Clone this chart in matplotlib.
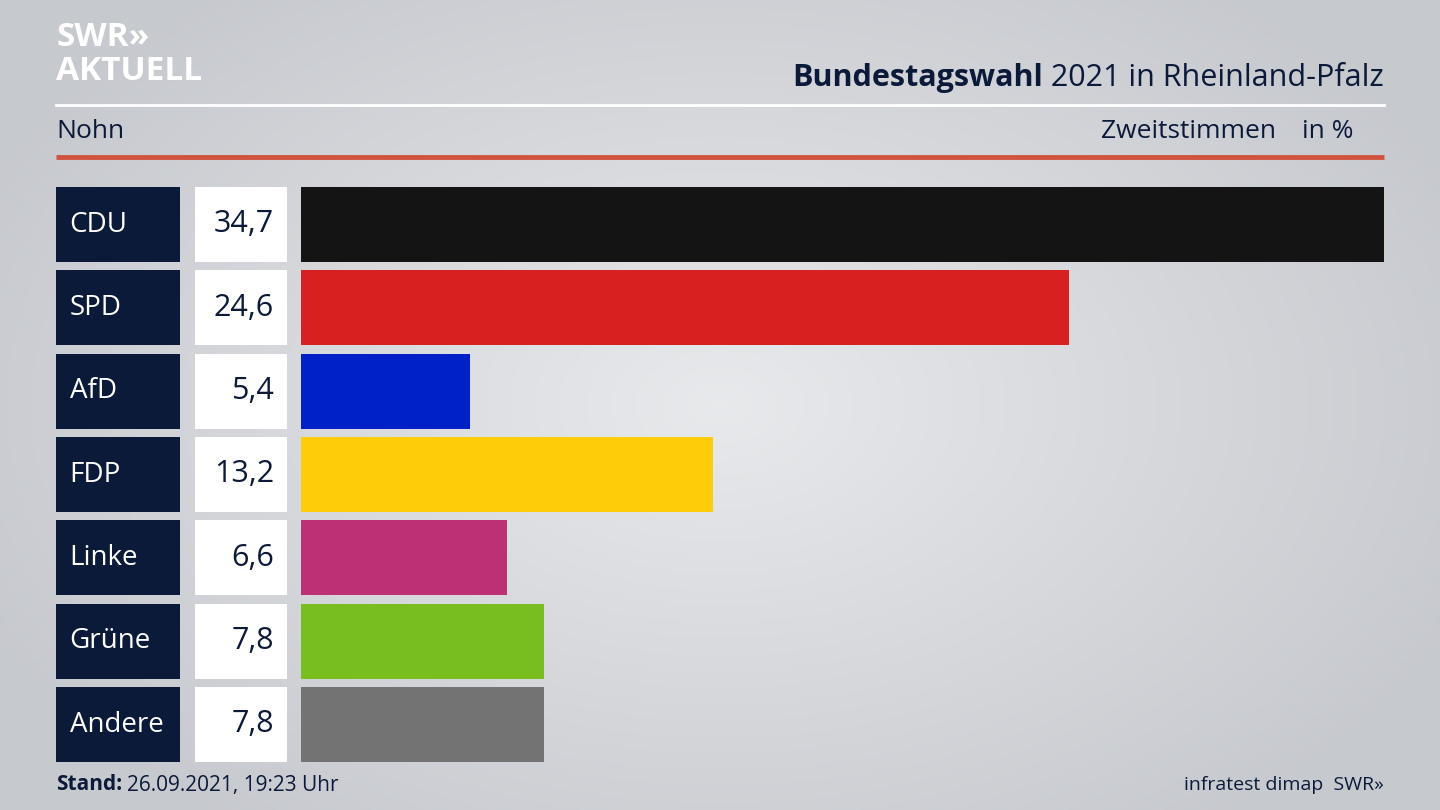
import numpy as np
import matplotlib
matplotlib.use("Agg")
import matplotlib.pyplot as plt

parties = ["CDU", "SPD", "AfD", "FDP", "Linke", "Grüne", "Andere"]
values = [34.7, 24.6, 5.4, 13.2, 6.6, 7.8, 7.8]
value_labels = ["34,7", "24,6", "5,4", "13,2", "6,6", "7,8", "7,8"]
colors = ["#141414", "#d82020", "#0020c8", "#ffcc0a", "#be3075", "#78be1e", "#737373"]

W, H = 1440, 810
FONT = "Open Sans"
NAVY = "#0c1a3a"
fig = plt.figure(figsize=(14.4, 8.1), dpi=100)

bg = fig.add_axes([0, 0, 1, 1])
xx = np.linspace(-1, 1, 400)
yy = np.linspace(-1, 1, 225)
X, Y = np.meshgrid(xx, yy)
r = np.sqrt(X**2 * 0.8 + Y**2 * 0.6)
c0 = np.array([0.91, 0.915, 0.925]); c1 = np.array([0.78, 0.79, 0.81])
t = np.clip(r, 0, 1)[..., None]
bg.imshow(c0 * (1 - t) + c1 * t, extent=[0, W, H, 0], aspect="auto")
bg.set_xlim(0, W); bg.set_ylim(H, 0); bg.axis("off")

def ax_px(x0, x1, y0=187, y1=762):
    return fig.add_axes([x0 / W, 1 - y1 / H, (x1 - x0) / W, (y1 - y0) / H])

ylim = (len(parties) - 0.55, -0.45)
ys = np.arange(len(parties))

a1 = ax_px(56, 180)
a1.barh(ys, [1] * len(ys), height=0.9, color=NAVY, left=0)
a1.set_xlim(0, 1); a1.set_ylim(*ylim); a1.axis("off")
for y, p in zip(ys, parties):
    a1.text(0.11, y, p, color="white", fontsize=20, family=FONT, va="center", ha="left")

a2 = ax_px(195, 287)
a2.barh(ys, [1] * len(ys), height=0.9, color="white")
a2.set_xlim(0, 1); a2.set_ylim(*ylim); a2.axis("off")
for y, v in zip(ys, value_labels):
    a2.text(0.86, y, v, color=NAVY, fontsize=22, family=FONT, va="center", ha="right")

a3 = ax_px(301, 1384)
a3.barh(ys, values, height=0.9, color=colors)
a3.set_xlim(0, max(values)); a3.set_ylim(*ylim); a3.axis("off")

bg.text(56, 37, "SWR»", color="white", fontsize=24, fontweight="bold", family=FONT, va="center")
bg.text(56, 71, "AKTUELL", color="white", fontsize=24, fontweight="bold", family=FONT, va="center")
t2 = bg.text(1384, 78, " 2021 in Rheinland-Pfalz", color=NAVY, fontsize=22, family=FONT, va="center", ha="right")
fig.canvas.draw()
xl = bg.transData.inverted().transform(t2.get_window_extent())[0][0]
bg.text(xl, 78, "Bundestagswahl", color=NAVY, fontsize=22, fontweight="bold", family=FONT,
        va="center", ha="right")
bg.plot([56, 1384], [105, 105], color="white", lw=2)
bg.text(56, 132, "Nohn", color=NAVY, fontsize=19, family=FONT, va="center")
bg.text(1276, 132, "Zweitstimmen", color=NAVY, fontsize=19, family=FONT, va="center", ha="right")
bg.text(1354, 132, "in %", color=NAVY, fontsize=19, family=FONT, va="center", ha="right")
bg.plot([56, 1384], [157, 157], color="#d0533f", lw=3.5, solid_capstyle="butt")

s = bg.text(56, 785, "Stand:", color=NAVY, fontsize=15, fontweight="bold", family=FONT, va="center")
fig.canvas.draw()
bx = bg.transData.inverted().transform(s.get_window_extent())[1][0]
bg.text(bx + 5, 785, "26.09.2021, 19:23 Uhr", color=NAVY, fontsize=15, family=FONT, va="center")
bg.text(1384, 785, "infratest dimap  SWR»", color=NAVY, fontsize=14, family=FONT, va="center", ha="right")
bg.set_xlim(0, W); bg.set_ylim(H, 0)

fig.savefig("out.png", dpi=100)
